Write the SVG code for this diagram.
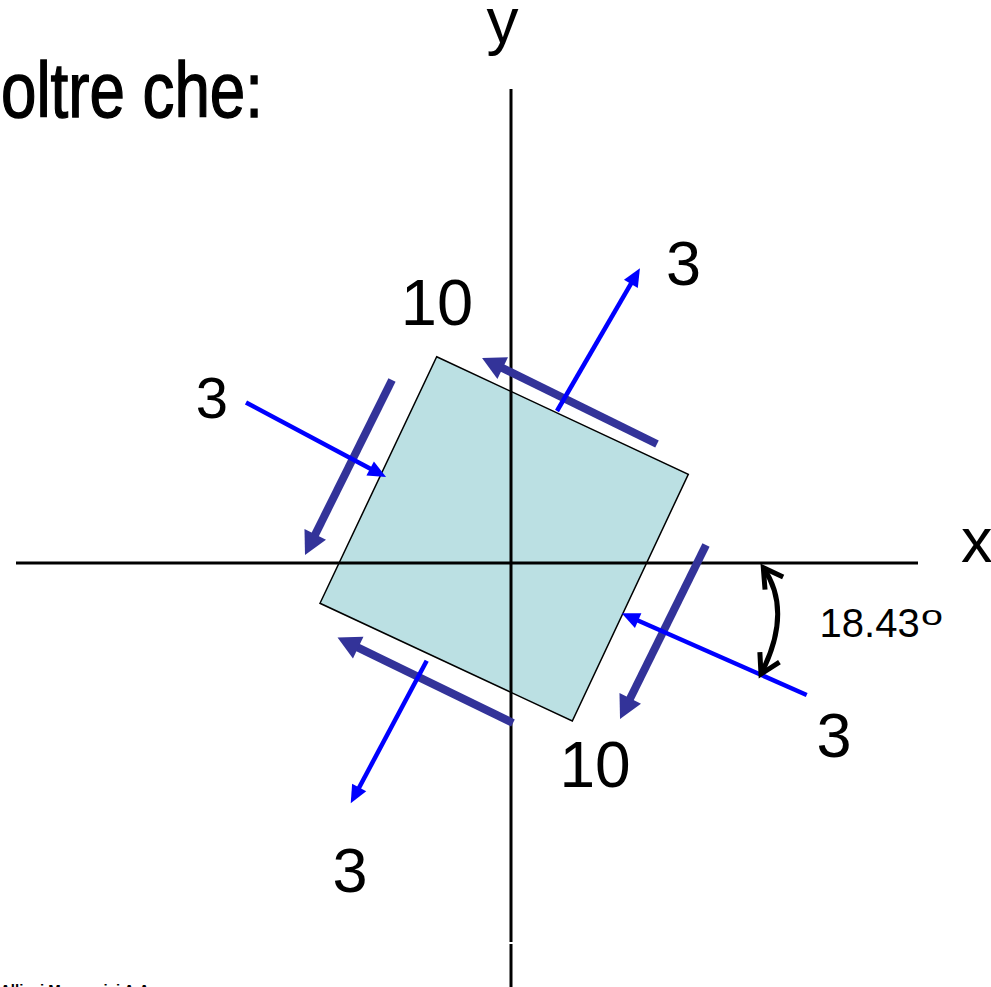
<svg xmlns="http://www.w3.org/2000/svg" width="991" height="987" viewBox="0 0 991 987">
<style>
  text { font-family: "Liberation Sans", Arial, sans-serif; fill: #000; }
  .lbl { font-size: 63px; }
  .axis { stroke: #000; stroke-width: 3; fill: none; }
  .shear { stroke: #333399; stroke-width: 8; fill: none; marker-end: url(#headDark); }
  .normal { stroke: #0000FF; stroke-width: 4.5; fill: none; marker-end: url(#headBlue); }
  .angle { stroke: #000; stroke-width: 5; fill: none; marker-start: url(#chev); marker-end: url(#chev); }
</style>
<defs>
  <marker id="headDark" markerUnits="userSpaceOnUse" orient="auto" refX="0" refY="0" markerWidth="30" markerHeight="30" overflow="visible">
    <path d="M-3,-12 L20,0 L-3,12 z" fill="#333399"/>
  </marker>
  <marker id="headBlue" markerUnits="userSpaceOnUse" orient="auto" refX="0" refY="0" markerWidth="20" markerHeight="20" overflow="visible">
    <path d="M-4,-8 L14,0 L-4,8 z" fill="#0000FF"/>
  </marker>
  <marker id="chev" markerUnits="userSpaceOnUse" orient="auto-start-reverse" refX="0" refY="0" markerWidth="30" markerHeight="30" overflow="visible">
    <path d="M-19,-11 L0,0 L-19,11" fill="none" stroke="#000" stroke-width="5"/>
  </marker>
</defs>
<rect width="991" height="987" fill="#fff"/>

<g id="title">
  <text x="1" y="116.5" font-family="'Liberation Sans Narrow', 'Liberation Sans', Arial, sans-serif" font-size="78" textLength="262" lengthAdjust="spacingAndGlyphs" stroke="#000" stroke-width="1.4">oltre che:</text>
</g>

<g id="element">
  <polygon points="436.7,356.7 688.3,474.3 572.3,721 320,603.3" fill="#BBE0E3" stroke="#000" stroke-width="1.5"/>
</g>

<g id="axes">
  <line class="axis" x1="16" y1="563" x2="918" y2="563"/>
  <line class="axis" x1="511" y1="89" x2="511" y2="942"/>
  <line class="axis" x1="511" y1="944" x2="511" y2="987"/>
  <text x="961" y="562" class="lbl">x</text>
  <text x="486.5" y="43" font-size="64">y</text>
</g>

<g id="connectors">
  <line class="shear" x1="657" y1="444" x2="500" y2="366.8"/>
  <line class="shear" x1="392" y1="380" x2="313.9" y2="537.1"/>
  <line class="shear" x1="513" y1="723" x2="355.5" y2="646.3"/>
  <line class="shear" x1="706" y1="545" x2="628.9" y2="701.1"/>
  <line class="normal" x1="557" y1="411" x2="632.9" y2="280.4"/>
  <line class="normal" x1="246" y1="402.5" x2="373.7" y2="470.4"/>
  <line class="normal" x1="806.7" y1="695" x2="634.5" y2="619"/>
  <line class="normal" x1="426.7" y1="660.7" x2="357.3" y2="791"/>
  <path class="angle" d="M763.3,567.7 Q793.2,611 761,674"/>
</g>

<g id="labels">
  <text x="437" y="325" font-size="65" text-anchor="middle">10</text>
  <text x="595" y="787" font-size="64" text-anchor="middle">10</text>
  <text x="683.5" y="285" class="lbl" text-anchor="middle">3</text>
  <text x="212" y="418" font-size="58" text-anchor="middle">3</text>
  <text x="834" y="757" class="lbl" text-anchor="middle">3</text>
  <text x="350" y="892" class="lbl" text-anchor="middle">3</text>
  <text x="819.6" y="636.7" font-size="40">18.43</text>
  <text x="921" y="625" font-size="28" textLength="22" lengthAdjust="spacingAndGlyphs">o</text>
</g>

<g id="footer">
  <text x="0" y="995" font-size="15" font-weight="bold">Allievi Meccanici A.A.</text>
</g>
</svg>
